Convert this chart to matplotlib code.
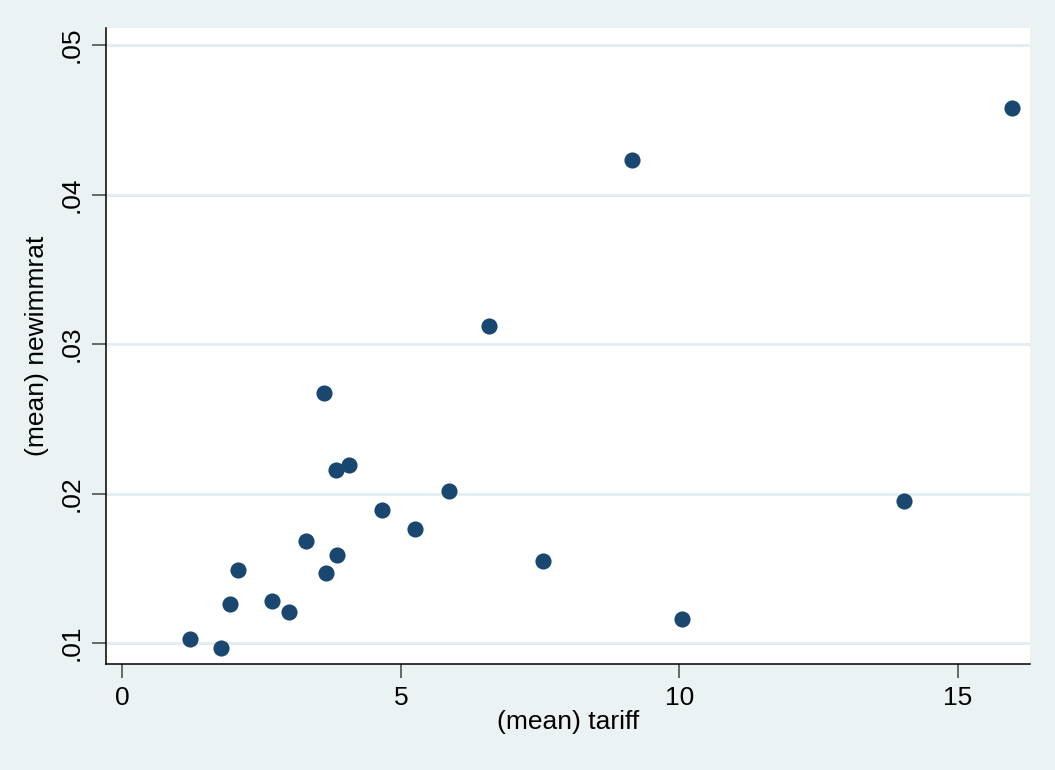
import matplotlib
matplotlib.use("Agg")
import matplotlib.pyplot as plt

# group means
tariff = [1.22, 1.77, 1.94, 2.08, 2.69, 2.99, 3.30, 3.62, 3.66, 3.84, 3.85,
          4.07, 4.66, 5.25, 5.86, 6.58, 7.56, 9.14, 10.04, 14.03, 15.97]
newimmrat = [0.01027, 0.00967, 0.0126, 0.0149, 0.0128, 0.0121, 0.0168, 0.0267,
             0.0147, 0.0216, 0.0159, 0.0219, 0.0189, 0.0176, 0.0202, 0.0312,
             0.0155, 0.0423, 0.0116, 0.0195, 0.0458]
xticks = [0, 5, 10, 15]
yticks = [0.01, 0.02, 0.03, 0.04, 0.05]
ytick_labels = [".01", ".02", ".03", ".04", ".05"]

bg = "#EAF2F3"
navy = "#1A476F"

plt.rcParams['font.family'] = ['Liberation Sans', 'DejaVu Sans']

fig = plt.figure(figsize=(10.55, 7.70), dpi=100, facecolor=bg)
ax = fig.add_axes([0.1005, 0.1377, 0.8758, 0.8259])
ax.set_facecolor("white")

ax.scatter(tariff, newimmrat, s=135, color=navy, zorder=3, linewidths=0)

ax.set_xlim(-0.29, 16.29)
ax.set_ylim(0.0086, 0.05114)
ax.set_xticks(xticks)
ax.set_yticks(yticks)
ax.set_yticklabels(ytick_labels, rotation=90, va="center")
ax.grid(axis="y", color="#E4EDEF", linewidth=2.2, zorder=1)

for s in ["top", "right"]:
    ax.spines[s].set_visible(False)
for s in ["left", "bottom"]:
    ax.spines[s].set_linewidth(1.1)
    ax.spines[s].set_color("black")

ax.tick_params(axis="both", length=10, width=1.1, color="#444444",
               labelsize=19, pad=6)

ax.set_xlabel("(mean) tariff", fontsize=19, labelpad=0)
ax.set_ylabel("(mean) newimmrat", fontsize=19, labelpad=8)

fig.savefig("out.png", dpi=100, facecolor=bg)
